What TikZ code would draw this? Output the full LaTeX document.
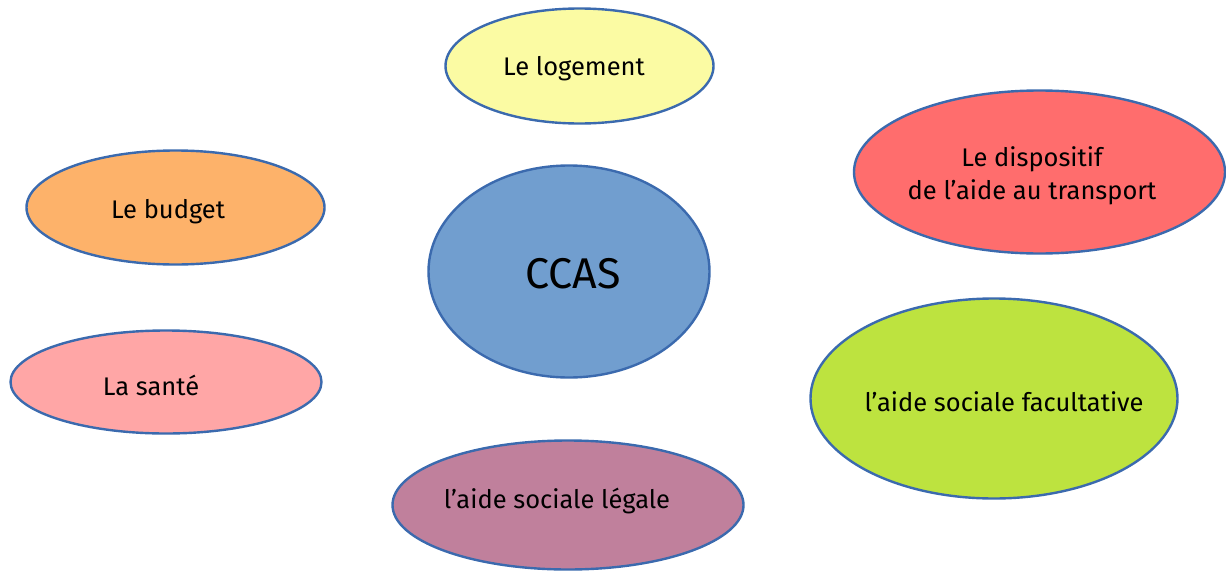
\documentclass[tikz,border=0pt]{standalone}
\usepackage{fontspec}
\setmainfont{Fira Sans}
\usetikzlibrary{shapes.geometric}
\definecolor{bordr}{HTML}{3B6AAE}
\definecolor{cyel}{HTML}{FBFBA3}
\definecolor{corg}{HTML}{FDB26A}
\definecolor{cblu}{HTML}{719ECF}
\definecolor{cred}{HTML}{FF6D6D}
\definecolor{cpnk}{HTML}{FFA6A6}
\definecolor{cgrn}{HTML}{BDE33F}
\definecolor{cmau}{HTML}{C0809C}
\tikzset{
  bub/.style={ellipse, draw=bordr, line width=2.4pt, inner sep=0pt},
  lbl/.style={font=\fontsize{25.5}{33}\selectfont, align=center, inner sep=0pt}
}
\begin{document}
\begin{tikzpicture}[x=1pt,y=-1pt]
\useasboundingbox (0,0) rectangle (1226,573);
\node[bub, fill=cyel, minimum width=268pt, minimum height=115pt] (log) at (579.5,66) {};
\node[bub, fill=corg, minimum width=298pt, minimum height=114pt] (bud) at (175.5,207.5) {};
\node[bub, fill=cblu, minimum width=281pt, minimum height=212pt] (ccas) at (569,271.5) {};
\node[bub, fill=cred, minimum width=371pt, minimum height=163pt] (tra) at (1039.5,172) {};
\node[bub, fill=cpnk, minimum width=311pt, minimum height=103pt] (san) at (166,382) {};
\node[bub, fill=cgrn, minimum width=367pt, minimum height=200pt] (fac) at (994,398.5) {};
\node[bub, fill=cmau, minimum width=351pt, minimum height=129pt] (leg) at (568,505) {};
\node[lbl] (tlog) at (574,69) {Le logement};
\node[lbl] (tbud) at (168,212) {Le budget};
\node[lbl] (tsan) at (151,385) {La santé};
\node[lbl] (ttra) at (1032,176) {Le dispositif\\de l’aide au transport};
\node[lbl] (tfac) at (1004,402) {l’aide sociale facultative};
\node[lbl] (tleg) at (557,501) {l’aide sociale légale};
\node[lbl, font=\fontsize{43}{50}\selectfont] (tccas) at (573,274) {CCAS};
\end{tikzpicture}
\end{document}
